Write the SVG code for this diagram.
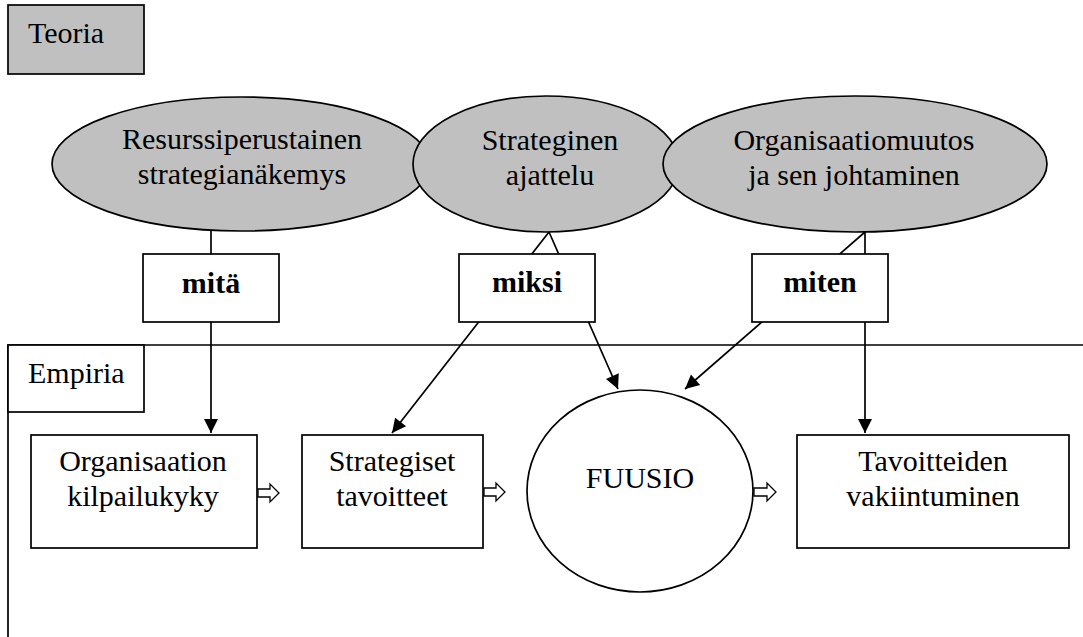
<svg xmlns="http://www.w3.org/2000/svg" width="1083" height="637" viewBox="0 0 1083 637" font-family="Liberation Serif, serif" font-size="30">
<style>
.c{text-anchor:middle}
.b{font-weight:bold}
.box{fill:#fff;stroke:#000;stroke-width:1.7}
.gray{fill:#c0c0c0;stroke:#000;stroke-width:1.7}
.ln{fill:none;stroke:#000;stroke-width:1.7}
.blk{fill:#fff;stroke:#000;stroke-width:1.3}
</style>
<defs>
<marker id="ah" markerUnits="userSpaceOnUse" markerWidth="16" markerHeight="16" viewBox="0 0 16 16" refX="15" refY="8" orient="auto">
<path d="M1,1 L15,8 L1,15 Z" fill="#000"/>
</marker>
</defs>
<g id="teoria">
<rect class="gray" x="8" y="5" width="136" height="69"/>
<text x="28" y="43">Teoria</text>
</g>
<g id="empiria-frame">
<path class="ln" d="M8,637 L8,345 L1083,345"/>
<rect class="box" x="8" y="345" width="136" height="67"/>
<text x="28" y="383">Empiria</text>
</g>
<g id="connectors">
<line class="ln" x1="211" y1="230" x2="211" y2="433" marker-end="url(#ah)"/>
<line class="ln" x1="549" y1="232" x2="392" y2="433" marker-end="url(#ah)"/>
<line class="ln" x1="549" y1="232" x2="618" y2="389" marker-end="url(#ah)"/>
<line class="ln" x1="865" y1="232" x2="865" y2="433" marker-end="url(#ah)"/>
<line class="ln" x1="865" y1="232" x2="685" y2="389" marker-end="url(#ah)"/>
<polygon class="blk" points="258,489 270,489 270,484 279,493 270,502 270,497 258,497"/>
<polygon class="blk" points="484,488 496,488 496,483 505,492 496,501 496,496 484,496"/>
<polygon class="blk" points="754,488 767,488 767,483 776,492 767,501 767,496 754,496"/>
</g>
<g id="e1">
<ellipse class="gray" cx="241" cy="164" rx="189" ry="67"/>
<text class="c" x="242" y="149">Resurssiperustainen</text>
<text class="c" x="242" y="184">strategianäkemys</text>
</g>
<g id="e2">
<ellipse class="gray" cx="546" cy="164" rx="133" ry="68"/>
<text class="c" x="550" y="150">Strateginen</text>
<text class="c" x="550" y="185">ajattelu</text>
</g>
<g id="e3">
<ellipse class="gray" cx="855" cy="164" rx="192" ry="68"/>
<text class="c" x="854" y="150">Organisaatiomuutos</text>
<text class="c" x="854" y="185">ja sen johtaminen</text>
</g>
<g id="mita">
<rect class="box" x="143" y="254" width="136" height="68"/>
<text class="c b" x="211" y="293">mitä</text>
</g>
<g id="miksi">
<rect class="box" x="459" y="254" width="136" height="68"/>
<text class="c b" x="527" y="292">miksi</text>
</g>
<g id="miten">
<rect class="box" x="752" y="254" width="136" height="68"/>
<text class="c b" x="820" y="292">miten</text>
</g>
<g id="organisaatio">
<rect class="box" x="31" y="435" width="226" height="113"/>
<text class="c" x="143" y="471">Organisaation</text>
<text class="c" x="143" y="506">kilpailukyky</text>
</g>
<g id="strategiset">
<rect class="box" x="302" y="435" width="181" height="113"/>
<text class="c" x="392" y="471">Strategiset</text>
<text class="c" x="392" y="506">tavoitteet</text>
</g>
<g id="fuusio">
<ellipse class="box" cx="640" cy="491" rx="113" ry="101"/>
<text class="c" x="640" y="488">FUUSIO</text>
</g>
<g id="tavoitteiden">
<rect class="box" x="797" y="435" width="272" height="113"/>
<text class="c" x="933" y="471">Tavoitteiden</text>
<text class="c" x="933" y="506">vakiintuminen</text>
</g>
</svg>
